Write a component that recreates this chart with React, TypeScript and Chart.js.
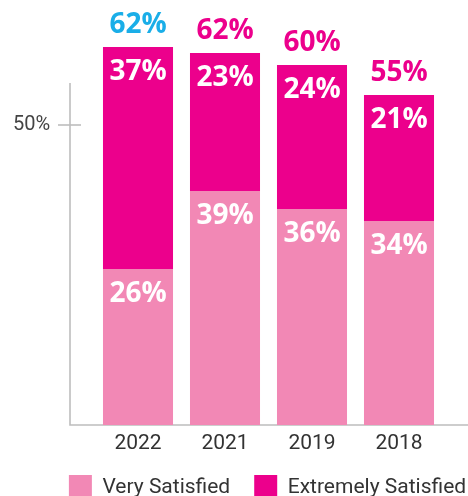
import React, { useEffect, useRef } from "react";
import { Chart, registerables } from "chart.js";

Chart.register(...registerables);

const categories = ["2022", "2021", "2019", "2018"];
const verySatisfied = [26, 39, 36, 34];
const extremelySatisfied = [37, 23, 24, 21];
const totals = [62, 62, 60, 55];
const yTickValues = [50];
const yAxisTop = 57;
const yMax = 70;

const LIGHT = "#F288B5";
const MAGENTA = "#EC008C";
const BLUE = "#1AAEE8";
const AXIS = "#BDBDBD";
const TEXT = "#333333";

const CANVAS_W = 500;
const CANVAS_H = 511;

const decorPlugin = {
  id: "decor",
  beforeDatasetsDraw(chart: any) {
    const { ctx, chartArea } = chart;
    const ys = chart.scales.y;
    const axisX = chartArea.left - 24.5;
    const y0 = ys.getPixelForValue(0);
    const yTop = ys.getPixelForValue(yAxisTop);
    ctx.save();
    ctx.strokeStyle = AXIS;
    ctx.lineWidth = 1.6;
    ctx.beginPath();
    ctx.moveTo(axisX, yTop);
    ctx.lineTo(axisX, y0);
    ctx.lineTo(chart.width, y0);
    ctx.stroke();
    yTickValues.forEach((v) => {
      const py = ys.getPixelForValue(v);
      ctx.beginPath();
      ctx.moveTo(axisX - 12, py);
      ctx.lineTo(axisX + 11, py);
      ctx.stroke();
    });
    ctx.restore();
  },
  afterDatasetsDraw(chart: any) {
    const { ctx } = chart;
    ctx.save();
    ctx.textAlign = "center";
    ctx.textBaseline = "middle";
    ctx.font = "bold 28px 'Open Sans'";
    ctx.fillStyle = "#FFFFFF";
    chart.data.datasets.forEach((ds: any, d: number) => {
      const meta = chart.getDatasetMeta(d);
      meta.data.forEach((el: any, i: number) => {
        ctx.fillText(ds.data[i] + "%", el.x, el.y + 25);
      });
    });
    const topMeta = chart.getDatasetMeta(chart.data.datasets.length - 1);
    topMeta.data.forEach((el: any, i: number) => {
      ctx.fillStyle = i === 0 ? BLUE : MAGENTA;
      ctx.fillText(totals[i] + "%", el.x, el.y - 22);
    });
    ctx.restore();
  },
};

export default function App() {
  const ref = useRef<HTMLCanvasElement | null>(null);
  useEffect(() => {
    if (!ref.current) return;
    const chart = new Chart(ref.current, {
      type: "bar",
      data: {
        labels: categories,
        datasets: [
          {
            label: "Very Satisfied",
            data: verySatisfied,
            backgroundColor: LIGHT,
            barPercentage: 0.805,
            categoryPercentage: 1,
          },
          {
            label: "Extremely Satisfied",
            data: extremelySatisfied,
            backgroundColor: MAGENTA,
            barPercentage: 0.805,
            categoryPercentage: 1,
          },
        ],
      },
      options: {
        animation: false,
        responsive: false,
        maintainAspectRatio: false,
        layout: { padding: { left: 35, right: 0, top: 5, bottom: 0 } },
        plugins: {
          tooltip: { enabled: false },
          legend: {
            position: "bottom",
            labels: {
              boxWidth: 23,
              boxHeight: 26,
              padding: 24,
              color: TEXT,
              font: { family: "Roboto", size: 21 },
            },
          },
        },
        scales: {
          x: {
            stacked: true,
            offset: true,
            grid: { display: false, drawTicks: false },
            border: { display: false },
            ticks: {
              color: TEXT,
              font: { family: "Roboto", size: 21 },
              padding: 6,
            },
            afterFit: (s: any) => {
              s.height = 26;
            },
          },
          y: {
            stacked: true,
            min: 0,
            max: yMax,
            grid: { display: false, drawTicks: false },
            border: { display: false },
            afterBuildTicks: (s: any) => {
              s.ticks = yTickValues.map((v) => ({ value: v }));
            },
            ticks: {
              color: "#444444",
              font: { family: "Roboto", size: 20 },
              mirror: true,
              padding: -81.5,
              callback: (v: any) => v + "%",
            },
            afterFit: (s: any) => {
              s.width = 59.5;
              s.paddingTop = 0;
              s.paddingBottom = 0;
            },
          },
          yRight: {
            type: "linear",
            position: "right",
            display: true,
            grid: { display: false, drawTicks: false },
            border: { display: false },
            ticks: { display: false },
            afterFit: (s: any) => {
              s.width = CANVAS_W - 442.5;
              s.paddingTop = 0;
              s.paddingBottom = 0;
            },
          },
        },
      },
      plugins: [decorPlugin],
    });
    return () => chart.destroy();
  }, []);
  return (
    <div
      style={{
        position: "fixed",
        left: 0,
        top: 0,
        width: 468,
        height: 496,
        overflow: "hidden",
        background: "#fff",
      }}
    >
      <canvas
        ref={ref}
        width={CANVAS_W}
        height={CANVAS_H}
        style={{ display: "block" }}
      />
    </div>
  );
}
